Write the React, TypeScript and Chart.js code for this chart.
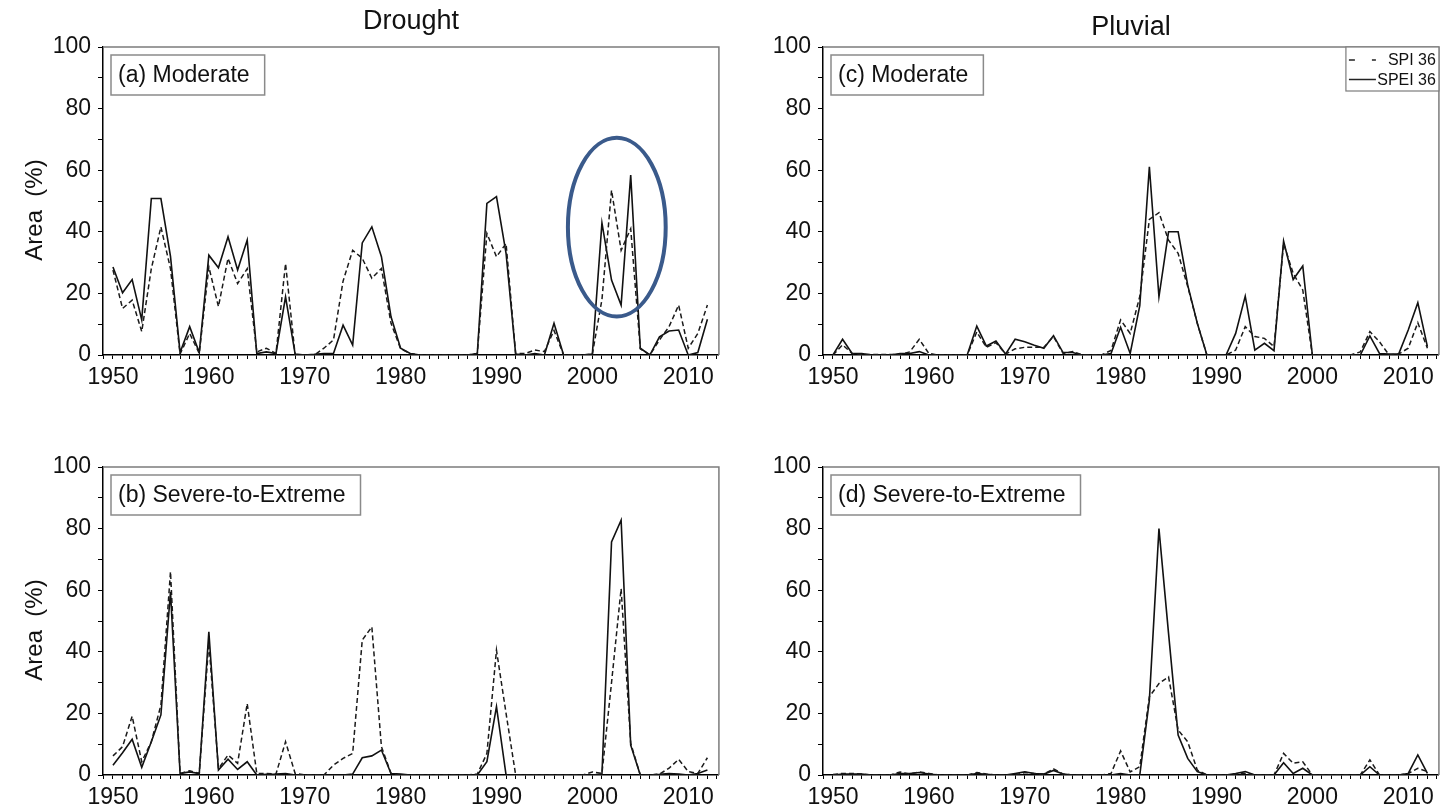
import React, { useEffect, useRef } from 'react';
import { Chart, registerables } from 'chart.js';

Chart.register(...registerables);

const FONT = '"Liberation Sans", Arial, Helvetica, sans-serif';

// Years on the x axis
const years = [
  1950, 1951, 1952, 1953, 1954, 1955, 1956, 1957, 1958, 1959,
  1960, 1961, 1962, 1963, 1964, 1965, 1966, 1967, 1968, 1969,
  1970, 1971, 1972, 1973, 1974, 1975, 1976, 1977, 1978, 1979,
  1980, 1981, 1982, 1983, 1984, 1985, 1986, 1987, 1988, 1989,
  1990, 1991, 1992, 1993, 1994, 1995, 1996, 1997, 1998, 1999,
  2000, 2001, 2002, 2003, 2004, 2005, 2006, 2007, 2008, 2009,
  2010, 2011, 2012,
];

// Drought, moderate (% area)
const droughtModerateSPI = [
  27.6, 15.1, 17.8, 7.6, 28, 41.6, 28, 0.3, 7, 0.5,
  28.6, 15.7, 31.4, 23.2, 28, 1, 2.2, 0.5, 29.7, 0,
  0, 0, 2.2, 4.9, 24, 34, 31.4, 24.9, 28.1, 10.3,
  2, 0.5, 0, 0, 0, 0, 0, 0, 0.5, 39.5,
  31.9, 36.2, 0.5, 0.5, 1.6, 1.1, 8, 0, 0, 0,
  0.3, 18, 53.5, 34, 41, 2, 0, 4.9, 9.2, 16.2,
  2.2, 7, 16.2,
];
const droughtModerateSPEI = [
  28.6, 20.2, 24.5, 11.4, 50.8, 50.8, 32, 0.8, 9.2, 0.8,
  32.4, 28.3, 38.4, 27.6, 37.3, 0.5, 1, 0.5, 18.9, 0.3,
  0, 0.2, 0.5, 0.5, 9.7, 3.2, 36.4, 41.6, 31.9, 12.4,
  2.2, 0.5, 0, 0, 0, 0, 0, 0, 0.5, 49.2,
  51.4, 33, 0.3, 0, 0.5, 0, 10.3, 0, 0, 0,
  0.3, 42.9, 24.3, 16.2, 58.4, 2.2, 0, 5.9, 7.8, 8.1,
  0, 0.8, 11.6,
];

// Drought, severe-to-extreme (% area)
const droughtSevereSPI = [
  6.2, 9.2, 19.1, 4.3, 10.8, 22.7, 66, 0.5, 1.4, 0.5,
  43, 2, 6.5, 3.8, 23.2, 0.5, 0.5, 0.3, 10.8, 0.5,
  0, 0, 0, 3.2, 5.4, 7, 43.8, 48.1, 9.2, 0.5,
  0, 0, 0, 0, 0, 0, 0, 0, 0.3, 7,
  40.5, 20, 0, 0, 0, 0, 0, 0, 0, 0,
  1, 0.5, 30, 60.5, 10.3, 0, 0, 0.3, 2.2, 5.1,
  1.1, 0.5, 5.6,
];
const droughtSevereSPEI = [
  3.2, 7.2, 11.6, 2.5, 10.8, 19.5, 59.5, 0.5, 1, 0.5,
  46.5, 1.6, 5.1, 1.8, 4.3, 0, 0.2, 0.3, 0.5, 0,
  0, 0, 0, 0, 0, 0.3, 5.6, 6.2, 8.1, 0.5,
  0.3, 0, 0, 0, 0, 0, 0, 0, 0, 4.3,
  22.2, 0, 0, 0, 0, 0, 0, 0, 0, 0,
  0, 0.3, 75.7, 82.7, 9.7, 0, 0, 0.2, 0.5, 0.3,
  0, 0.5, 1.6,
];

// Pluvial, moderate (% area)
const pluvialModerateSPI = [
  0, 3.3, 0.5, 0.2, 0.2, 0.2, 0.2, 0.2, 1, 5.1,
  0.5, 0, 0, 0, 0, 7.5, 2.5, 4, 0.3, 2,
  2.5, 2.5, 2.5, 6, 0.5, 1.1, 0, 0, 0, 1.5,
  11.4, 7, 19, 44, 46.2, 37.3, 33, 22.2, 10.3, 0,
  0, 0, 1.6, 9.2, 6, 5.4, 2.7, 36.2, 26.5, 21.1,
  0, 0, 0, 0, 0, 1, 7.6, 4.3, 0, 0.3,
  2.2, 10.5, 2.2,
];
const pluvialModerateSPEI = [
  0, 5.1, 0.5, 0.5, 0, 0, 0, 0.5, 0.5, 1.1,
  0, 0, 0, 0, 0, 9.4, 2.9, 4.5, 0.3, 5.1,
  4.3, 3.2, 2.2, 6.3, 0.8, 0.8, 0, 0, 0, 0.5,
  9, 0.5, 16, 61.1, 18.9, 40, 40, 22.7, 10.3, 0,
  0, 0, 7, 19.1, 1.6, 3.8, 1.4, 37, 24.5, 28.9,
  0, 0, 0, 0, 0, 0, 6.2, 0.5, 0.3, 0.3,
  8.1, 17, 2.7,
];

// Pluvial, severe-to-extreme (% area)
const pluvialSevereSPI = [
  0.2, 0.5, 0.5, 0.3, 0, 0, 0, 1, 0.3, 1,
  0.5, 0, 0, 0, 0, 0.8, 0.3, 0, 0, 0,
  0.8, 0.5, 0.3, 2, 0.3, 0, 0, 0, 0, 0.5,
  7.8, 1, 2.7, 25.4, 29.7, 31.9, 14.6, 10.8, 1.6, 0,
  0, 0, 0.3, 0.5, 0, 0, 0, 7, 3.8, 4.3,
  0, 0, 0, 0, 0, 0, 4.9, 0, 0, 0,
  0.5, 2.2, 1.1,
];
const pluvialSevereSPEI = [
  0, 0.3, 0.3, 0.3, 0, 0, 0, 0.5, 0.5, 0.8,
  0.3, 0, 0, 0, 0, 0.5, 0.2, 0, 0, 0.5,
  1, 0.5, 0.3, 1.5, 0.3, 0, 0, 0, 0, 0,
  0.5, 0, 0, 24.3, 80, 46, 13, 5.4, 1.1, 0,
  0, 0, 0.5, 1.1, 0, 0, 0, 4, 0.5, 2.2,
  0, 0, 0, 0, 0, 0, 2.7, 0, 0, 0,
  0.5, 6.5, 0.5,
];

const seriesNames = ['SPI 36', 'SPEI 36'];
const yTicks = [0, 20, 40, 60, 80, 100];
const xTicks = [1950, 1960, 1970, 1980, 1990, 2000, 2010];

// Highlight around the 2001-2004 drought (centre year, centre %, half-width in years, half-height in %)
const highlight = { year: 2002.55, value: 41.5, halfYears: 5.1, halfValue: 29 };

const toPoints = (vals: number[]) => years.map((yr, i) => ({ x: yr, y: vals[i] }));

const decorPlugin = {
  id: 'panelDecor',
  afterDraw(chart: any, _args: any, opts: any) {
    const { ctx, chartArea: a, scales } = chart;
    ctx.save();

    // grey top/right frame
    ctx.strokeStyle = '#7c7c7c';
    ctx.lineWidth = 1.5;
    ctx.setLineDash([]);
    ctx.beginPath();
    ctx.moveTo(a.left, a.top);
    ctx.lineTo(a.right, a.top);
    ctx.lineTo(a.right, a.bottom);
    ctx.stroke();

    // column heading
    if (opts.heading) {
      ctx.fillStyle = '#111';
      ctx.font = `27px ${FONT}`;
      ctx.textAlign = 'center';
      ctx.textBaseline = 'alphabetic';
      ctx.fillText(opts.heading, (a.left + a.right) / 2, opts.headingY);
    }

    // y-axis title
    if (opts.yTitle) {
      ctx.save();
      ctx.translate(35, (a.top + a.bottom) / 2 + 9);
      ctx.rotate(-Math.PI / 2);
      ctx.fillStyle = '#111';
      ctx.font = `24px ${FONT}`;
      ctx.textAlign = 'center';
      ctx.textBaseline = 'middle';
      ctx.fillText(opts.yTitle, 0, 0);
      ctx.restore();
    }

    // panel tag box
    if (opts.tag) {
      ctx.font = `23px ${FONT}`;
      const w = ctx.measureText(opts.tag).width;
      ctx.fillStyle = '#fff';
      ctx.fillRect(a.left + 8, a.top + 8, w + 22, 40);
      ctx.strokeStyle = '#8a8a8a';
      ctx.lineWidth = 1.5;
      ctx.strokeRect(a.left + 8, a.top + 8, w + 22, 40);
      ctx.fillStyle = '#111';
      ctx.textAlign = 'left';
      ctx.textBaseline = 'middle';
      ctx.fillText(opts.tag, a.left + 15, a.top + 29);
    }

    // series key
    if (opts.showKey) {
      const bw = 93;
      const bh = 44;
      const bx = a.right - bw;
      const by = a.top;
      ctx.fillStyle = '#fff';
      ctx.fillRect(bx, by, bw, bh);
      ctx.strokeStyle = '#7c7c7c';
      ctx.lineWidth = 1.2;
      ctx.strokeRect(bx, by, bw, bh);
      chart.data.datasets.forEach((ds: any, i: number) => {
        const yy = by + 13 + i * 19.5;
        ctx.strokeStyle = '#222';
        ctx.lineWidth = 1.5;
        ctx.setLineDash(ds.borderDash && ds.borderDash.length ? [6, 17] : []);
        ctx.beginPath();
        ctx.moveTo(bx + 3, yy);
        ctx.lineTo(bx + 30, yy);
        ctx.stroke();
        ctx.setLineDash([]);
        ctx.fillStyle = '#111';
        ctx.font = `16px ${FONT}`;
        ctx.textAlign = 'right';
        ctx.textBaseline = 'middle';
        ctx.fillText(ds.label, a.right - 3, yy + 1);
      });
    }

    // highlight ellipse
    if (opts.highlight) {
      const h = opts.highlight;
      const cx = scales.x.getPixelForValue(h.year);
      const cy = scales.y.getPixelForValue(h.value);
      const rx = Math.abs(scales.x.getPixelForValue(h.year + h.halfYears) - cx);
      const ry = Math.abs(scales.y.getPixelForValue(h.value + h.halfValue) - cy);
      ctx.strokeStyle = '#3a5a8b';
      ctx.lineWidth = 4;
      ctx.beginPath();
      ctx.ellipse(cx, cy, rx, ry, 0, 0, Math.PI * 2);
      ctx.stroke();
    }

    ctx.restore();
  },
};

type PanelProps = {
  left: number;
  top: number;
  width: number;
  height: number;
  padTop: number;
  xAxisHeight: number;
  spi: number[];
  spei: number[];
  tag: string;
  heading?: string;
  headingY?: number;
  yTitle?: string;
  showKey?: boolean;
  withHighlight?: boolean;
};

function Panel(p: PanelProps) {
  const ref = useRef<HTMLCanvasElement | null>(null);

  useEffect(() => {
    if (!ref.current) return;
    const tickFont = { family: FONT, size: 23, lineHeight: 1.2 };
    const chart = new Chart(ref.current, {
      type: 'line',
      data: {
        datasets: [
          {
            label: seriesNames[0],
            data: toPoints(p.spi),
            borderColor: '#1a1a1a',
            borderWidth: 1.5,
            borderDash: [5, 3],
            pointRadius: 0,
            tension: 0,
            fill: false,
          },
          {
            label: seriesNames[1],
            data: toPoints(p.spei),
            borderColor: '#111',
            borderWidth: 1.6,
            pointRadius: 0,
            tension: 0,
            fill: false,
          },
        ],
      },
      options: {
        animation: false,
        responsive: false,
        devicePixelRatio: 1,
        events: [],
        layout: { padding: { top: p.padTop, right: 1, left: 0, bottom: 0 } },
        plugins: {
          legend: { display: false },
          tooltip: { enabled: false },
          title: { display: false },
          panelDecor: {
            heading: p.heading,
            headingY: p.headingY,
            yTitle: p.yTitle,
            tag: p.tag,
            showKey: !!p.showKey,
            highlight: p.withHighlight ? highlight : null,
          },
        } as any,
        scales: {
          x: {
            type: 'linear',
            min: 1948.96,
            max: 2013.2,
            afterFit: (s: any) => {
              s.height = p.xAxisHeight;
            },
            border: { display: true, color: '#000', width: 1.5 },
            grid: {
              display: true,
              drawOnChartArea: false,
              drawTicks: true,
              tickLength: 4,
              color: '#000',
              lineWidth: 1,
            },
            ticks: {
              stepSize: 1,
              autoSkip: false,
              includeBounds: false,
              maxRotation: 0,
              padding: 5,
              color: '#111',
              font: tickFont,
              callback: (v: any) => (xTicks.includes(Number(v)) ? String(v) : ''),
            },
          },
          y: {
            type: 'linear',
            min: 0,
            max: 100,
            afterFit: (s: any) => {
              s.width = 103;
            },
            border: { display: true, color: '#000', width: 1.5 },
            grid: {
              display: true,
              drawOnChartArea: false,
              drawTicks: true,
              tickLength: 5,
              color: '#000',
              lineWidth: 1,
            },
            ticks: {
              stepSize: 10,
              autoSkip: false,
              includeBounds: false,
              padding: 7,
              color: '#111',
              font: tickFont,
              callback: (v: any) => (yTicks.includes(Number(v)) ? String(v) : ''),
            },
          },
        },
      },
      plugins: [decorPlugin],
    });
    return () => chart.destroy();
  }, []);

  return (
    <canvas
      ref={ref}
      width={p.width}
      height={p.height}
      style={{ position: 'absolute', left: p.left, top: p.top, width: p.width, height: p.height }}
    />
  );
}

export default function App() {
  return (
    <div
      style={{
        position: 'absolute',
        left: 0,
        top: 0,
        width: 1442,
        height: 809,
        background: '#fff',
        overflow: 'hidden',
      }}
    >
      <Panel
        left={0}
        top={0}
        width={722}
        height={400}
        padTop={47}
        xAxisHeight={45}
        spi={droughtModerateSPI}
        spei={droughtModerateSPEI}
        tag="(a) Moderate"
        heading="Drought"
        headingY={29}
        yTitle="Area  (%)"
        withHighlight
      />
      <Panel
        left={0}
        top={400}
        width={722}
        height={409}
        padTop={67}
        xAxisHeight={34}
        spi={droughtSevereSPI}
        spei={droughtSevereSPEI}
        tag="(b) Severe-to-Extreme"
        yTitle="Area  (%)"
      />
      <Panel
        left={720}
        top={0}
        width={722}
        height={400}
        padTop={47}
        xAxisHeight={45}
        spi={pluvialModerateSPI}
        spei={pluvialModerateSPEI}
        tag="(c) Moderate"
        heading="Pluvial"
        headingY={35}
        showKey
      />
      <Panel
        left={720}
        top={400}
        width={722}
        height={409}
        padTop={67}
        xAxisHeight={34}
        spi={pluvialSevereSPI}
        spei={pluvialSevereSPEI}
        tag="(d) Severe-to-Extreme"
      />
    </div>
  );
}
